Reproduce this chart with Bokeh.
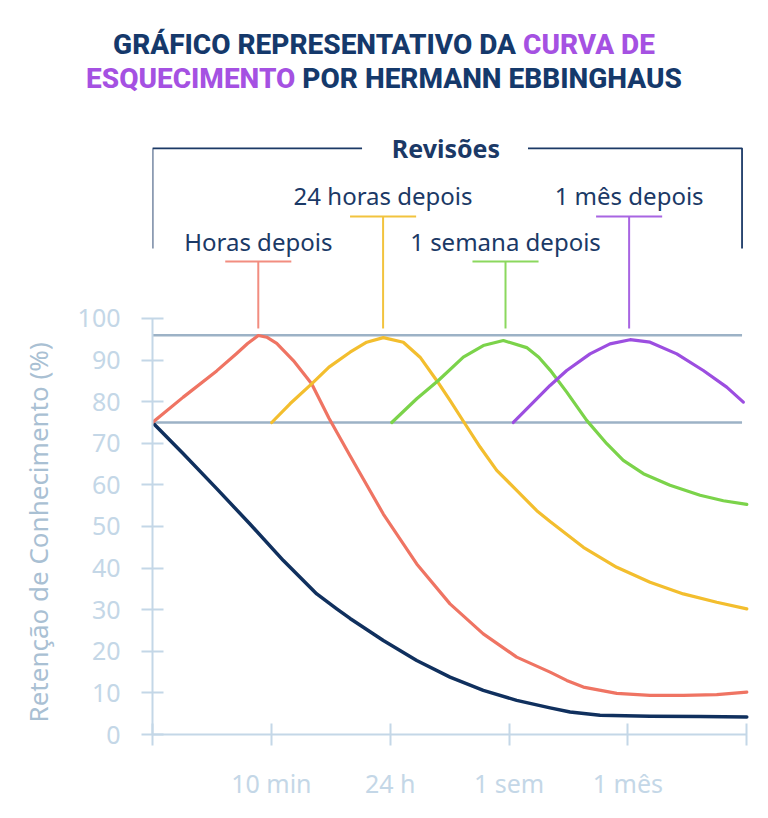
from bokeh.plotting import figure
from bokeh.layouts import column
from bokeh.models import Range1d, FixedTicker, Div, Title
from bokeh.embed import file_html
from bokeh.resources import INLINE
from bokeh.core.properties import value

# ---------------- data ----------------
x_tick_values = [0, 1, 2, 3, 4, 5]
x_tick_labels = ["", "10 min", "24 h", "1 sem", "1 mês", ""]
y_tick_values = [0, 10, 20, 30, 40, 50, 60, 70, 80, 90, 100]
reference_levels = [96, 75]

# curva sem revisão
base_x = [0, 0.259, 0.540, 0.820, 1.101, 1.382, 1.550, 1.662, 1.942, 2.223, 2.503, 2.783, 3.064,
          3.345, 3.513, 3.765, 4.186, 4.607, 5.0]
base_y = [75, 67.5, 59.1, 50.6, 41.8, 33.8, 30.2, 27.9, 22.6, 17.8, 13.8, 10.6, 8.2,
          6.4, 5.4, 4.6, 4.4, 4.3, 4.2]

# revisão: horas depois
rev1_x = [0, 0.259, 0.540, 0.708, 0.800, 0.890, 0.961, 1.045, 1.185, 1.339, 1.485, 1.662, 1.746, 1.942,
          2.223, 2.503, 2.783, 3.064, 3.345, 3.485, 3.625, 3.906, 4.186, 4.466, 4.747, 5.0]
rev1_y = [75, 81.1, 87.4, 91.6, 94.0, 95.9, 95.5, 94.0, 89.9, 84.3, 76.0, 67.0, 62.8, 53.0,
          41.0, 31.4, 24.2, 18.6, 15.0, 13.0, 11.4, 9.9, 9.4, 9.4, 9.6, 10.2]

# revisão: 24 horas depois
rev2_x = [1.003, 1.157, 1.339, 1.485, 1.662, 1.802, 1.942, 2.110, 2.251, 2.391, 2.503, 2.629, 2.756,
          2.896, 3.064, 3.233, 3.345, 3.625, 3.906, 4.186, 4.466, 4.747, 5.0]
rev2_y = [75, 79.5, 84.3, 88.3, 91.9, 94.3, 95.4, 94.3, 90.7, 85.1, 80.3, 74.7, 69.1,
          63.5, 58.7, 53.8, 51.2, 45.0, 40.2, 36.6, 33.8, 31.8, 30.2]

# revisão: 1 semana depois
rev3_x = [2.013, 2.223, 2.405, 2.615, 2.783, 2.952, 3.148, 3.250, 3.345, 3.485, 3.653, 3.822, 3.961,
          4.130, 4.354, 4.607, 4.803, 5.0]
rev3_y = [75, 80.7, 85.1, 90.7, 93.5, 94.7, 93.0, 90.7, 87.6, 82.3, 75.5, 69.9, 65.9,
          62.7, 59.9, 57.5, 56.2, 55.3]

# revisão: 1 mês depois
rev4_x = [3.036, 3.345, 3.485, 3.681, 3.849, 4.018, 4.186, 4.411, 4.634, 4.831, 4.971]
rev4_y = [75, 83.9, 87.5, 91.5, 93.9, 94.9, 94.3, 91.5, 87.5, 83.5, 79.9]

review_names = ["Horas depois", "24 horas depois", "1 semana depois", "1 mês depois"]
review_x = [0.89, 1.94, 2.97, 4.01]
review_tier = [0, 1, 0, 1]

# ---------------- styles ----------------
NAVY = "#10305E"
TEXT_NAVY = "#1B3966"
curve_colors = ["#EF7463", "#F3BE2E", "#7BD34A", "#9C4EE0"]
marker_colors = ["#F28D80", "#F2C33E", "#8BD85E", "#A865E2"]
AXIS = "#C4D7E7"
REF = "#9CB2C6"
TITLE_NAVY = "#15396B"
TITLE_PURPLE = "#A551E2"

# ---------------- title (HTML, two colours) ----------------
title_html = (
    f'<div style="width:768px;text-align:center;font-family:Roboto, sans-serif;font-weight:800;'
    f'font-size:28px;line-height:34px;padding-top:28px;color:{TITLE_NAVY};">'
    f'GRÁFICO REPRESENTATIVO DA <span style="color:{TITLE_PURPLE};">CURVA DE</span><br>'
    f'<span style="color:{TITLE_PURPLE};">ESQUECIMENTO</span> POR HERMANN EBBINGHAUS</div>'
)
top = Div(text=title_html, width=768, height=105, margin=0)

# ---------------- chart figure ----------------
p = figure(width=768, height=713, output_backend="svg", toolbar_location=None,
           x_range=Range1d(0, 5.048), y_range=Range1d(0, 151.2),
           min_border_left=152, min_border_right=16, min_border_top=0, min_border_bottom=84)
p.outline_line_color = None
p.grid.visible = False

p.xaxis.bounds = (0, 5.0)
p.xaxis.ticker = FixedTicker(ticks=x_tick_values)
p.xaxis.major_label_overrides = {v: l for v, l in zip(x_tick_values, x_tick_labels)}
p.yaxis.bounds = (0, 100)
p.yaxis.ticker = FixedTicker(ticks=y_tick_values)
for ax in (p.xaxis, p.yaxis):
    ax.axis_line_color = AXIS
    ax.axis_line_width = 2
    ax.major_tick_line_color = AXIS
    ax.major_tick_line_width = 2
    ax.major_tick_in = 11
    ax.major_tick_out = 11
    ax.minor_tick_line_color = None
    ax.major_label_text_color = AXIS
    ax.major_label_text_font = "Noto Sans"
    ax.major_label_text_font_size = "25px"
p.xaxis.major_label_standoff = 20
p.yaxis.major_label_standoff = 21

# y-axis title, placed along the 0-100 scale
p.add_layout(Title(text="Retenção de Conhecimento (%)", align="left", offset=12, standoff=34,
                   vertical_align="top",
                   text_color="#A9C0D3", text_font="Noto Sans", text_font_size="26px",
                   text_font_style="normal"), "left")

# reference lines
p.segment(x0=[0] * len(reference_levels), x1=[4.96] * len(reference_levels),
          y0=reference_levels, y1=reference_levels, line_color=REF, line_width=2.5)

# curves
p.line(base_x, base_y, line_color=NAVY, line_width=3.5, line_join="round", line_cap="round")
for xs, ys, c in zip([rev1_x, rev2_x, rev3_x, rev4_x], [rev1_y, rev2_y, rev3_y, rev4_y], curve_colors):
    p.line(xs, ys, line_color=c, line_width=3.2, line_join="round", line_cap="round")

# review markers (T shapes) and labels
bar_y = [113.7, 124.5]
text_y = [118.5, 129.6]
stem_bottom = 97.6
half = 0.278
for name, rx, tier, mc in zip(review_names, review_x, review_tier, marker_colors):
    p.segment(x0=[rx - half], x1=[rx + half], y0=[bar_y[tier]], y1=[bar_y[tier]], line_color=mc, line_width=2)
    p.segment(x0=[rx], x1=[rx], y0=[bar_y[tier]], y1=[stem_bottom], line_color=mc, line_width=2)
    p.text(x=[rx], y=[text_y[tier]], text=[name], text_align="center", text_baseline="middle",
           text_color=TEXT_NAVY, text_font=value("Noto Sans"), text_font_size="24px")

# "Revisões" bracket
p.multi_line(xs=[[0, 0, 1.763], [3.159, 4.96, 4.96]], ys=[[116.8, 140.9, 140.9], [140.9, 140.9, 116.8]],
             line_color=TEXT_NAVY, line_width=1.8)
p.text(x=[2.469], y=[140.9], text=["Revisões"], text_align="center", text_baseline="middle",
       text_color=TEXT_NAVY, text_font=value("Noto Sans"), text_font_style="bold", text_font_size="25px")

layout = column(top, p, spacing=0)
open("out.html", "w").write(file_html(layout, INLINE))
